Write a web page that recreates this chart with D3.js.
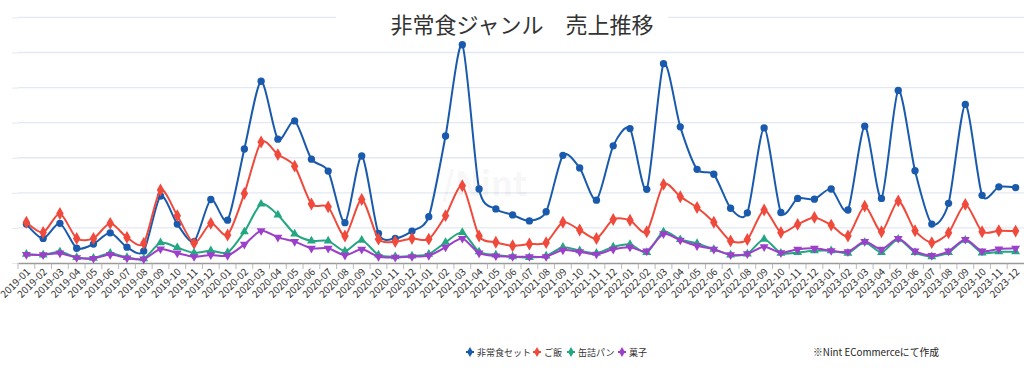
<!DOCTYPE html>
<html>
<head>
<meta charset="utf-8">
<script src="https://cdn.jsdelivr.net/npm/d3@7"></script>
<style>
  body { margin: 0; background: #fff; }
  text { font-family: "Noto Sans CJK JP", "Noto Sans", sans-serif; }
</style>
</head>
<body>
<div id="chart"></div>
<script>
// months 2019-01 .. 2023-12
const years = [2019, 2020, 2021, 2022, 2023]
const months = years.flatMap(y => d3.range(1, 13).map(m => y + '-' + String(m).padStart(2, '0')))

const seriesNames = ['非常食セット', 'ご飯', '缶詰パン', '菓子']
const seriesColors = ['#1a5aad', '#ef4a3c', '#24a682', '#9c3fc9']

const setSales = [
  111, 70, 113, 42, 54, 86, 45, 34, 191, 111, 61, 181,
  122, 325, 518, 353, 405, 296, 262, 115, 305, 84, 70, 91,
  132, 362, 622, 211, 154, 137, 120, 146, 307, 271, 179, 334,
  383, 210, 568, 388, 267, 253, 156, 143, 385, 144, 184, 182,
  211, 151, 390, 184, 492, 263, 111, 170, 452, 193, 217, 215
]
const riceSales = [
  116, 87, 141, 70, 70, 113, 73, 56, 208, 135, 56, 113,
  80, 198, 345, 309, 276, 168, 160, 77, 181, 68, 61, 70,
  68, 135, 220, 77, 59, 49, 54, 58, 116, 94, 70, 124,
  122, 89, 224, 189, 158, 116, 63, 67, 151, 87, 110, 130,
  108, 77, 162, 89, 177, 92, 58, 86, 167, 89, 92, 91
]
const breadSales = [
  25, 23, 32, 16, 14, 28, 16, 12, 58, 44, 29, 35,
  30, 89, 168, 137, 83, 63, 63, 34, 65, 23, 18, 20,
  25, 59, 87, 32, 23, 18, 16, 20, 45, 35, 28, 46,
  53, 30, 89, 67, 56, 39, 23, 26, 68, 28, 30, 35,
  35, 28, 59, 30, 68, 30, 18, 30, 65, 29, 32, 32
]
const snackSales = [
  24, 23, 28, 15, 13, 24, 14, 11, 40, 28, 18, 23,
  21, 53, 92, 73, 61, 42, 42, 22, 39, 18, 16, 18,
  21, 45, 70, 28, 20, 18, 18, 18, 37, 32, 25, 39,
  45, 34, 83, 65, 49, 39, 23, 26, 46, 29, 39, 42,
  35, 32, 61, 39, 70, 34, 21, 34, 67, 34, 40, 42
]
const yTicks = [0, 100, 200, 300, 400, 500, 600, 700]

const allSeries = [setSales, riceSales, breadSales, snackSales]
const symbols = [d3.symbolCircle, d3.symbolDiamond, d3.symbolTriangle, d3.symbolTriangle]
const symSizes = [42, 48, 34, 34]
const symRotate = [0, 0, 0, 180]

const width = 1024
const height = 371

const svg = d3.select('#chart').append('svg')
  .attr('width', width)
  .attr('height', height)

const x = d3.scaleBand().domain(months).range([18, 1024])
const y = d3.scaleLinear().domain([0, 700]).range([263, 17.4])

// grid
svg.append('g')
  .attr('transform', 'translate(18,0)')
  .call(d3.axisLeft(y).tickValues(yTicks).tickSize(6).tickFormat(''))
  .call(g => g.select('.domain').remove())
  .call(g => g.selectAll('.tick line').attr('stroke', '#e3e8f2'))

svg.append('g')
  .selectAll('line')
  .data(yTicks.slice(1))
  .join('line')
  .attr('x1', 18).attr('x2', 1024)
  .attr('y1', d => y(d)).attr('y2', d => y(d))
  .attr('stroke', '#e3e8f2')
  .attr('stroke-width', 1.3)

// faint watermark
svg.append('text')
  .attr('x', 478).attr('y', 196)
  .attr('text-anchor', 'middle')
  .attr('font-size', 34)
  .attr('font-weight', 'bold')
  .attr('fill', '#000')
  .attr('fill-opacity', 0.05)
  .text('//Nint')

// x axis
const xAxis = svg.append('g')
  .attr('transform', 'translate(0,263)')
  .call(d3.axisBottom(x).tickSize(0).tickPadding(0))
xAxis.select('.domain').attr('stroke', '#9a9a9a').attr('stroke-width', 1.5)
xAxis.selectAll('.tick text')
  .attr('font-size', 10)
  .attr('fill', '#333')
  .attr('text-anchor', 'end')
  .attr('transform', 'translate(2,7) rotate(-45)')
  .attr('dy', '0.35em')

// tick marks between categories
svg.append('g')
  .selectAll('line')
  .data(months)
  .join('line')
  .attr('x1', d => x(d)).attr('x2', d => x(d))
  .attr('y1', 263).attr('y2', 269)
  .attr('stroke', '#aaa')
  .attr('stroke-width', 0.8)

const line = d3.line()
  .x((d, i) => x(months[i]) + x.bandwidth() / 2)
  .y(d => y(d))
  .curve(d3.curveCardinal.tension(0.25))

allSeries.forEach((data, s) => {
  const g = svg.append('g')
  g.append('path')
    .datum(data)
    .attr('d', line)
    .attr('fill', 'none')
    .attr('stroke', seriesColors[s])
    .attr('stroke-width', 2)
  g.selectAll('path.pt')
    .data(data)
    .join('path')
    .attr('class', 'pt')
    .attr('d', d3.symbol().type(symbols[s]).size(symSizes[s]))
    .attr('transform', (d, i) => `translate(${x(months[i]) + x.bandwidth() / 2},${y(d)}) rotate(${symRotate[s]})`)
    .attr('fill', seriesColors[s])
})

// title
svg.append('rect')
  .attr('x', 336).attr('y', 5).attr('width', 332).attr('height', 36)
  .attr('fill', '#fff')
svg.append('text')
  .attr('x', 522).attr('y', 33)
  .attr('text-anchor', 'middle')
  .attr('font-size', 22)
  .attr('fill', '#333')
  .text('非常食ジャンル　売上推移')

// legend
const legendX = [470, 537, 571, 622]
const legend = svg.append('g')
seriesNames.forEach((name, s) => {
  const item = legend.append('g').attr('transform', `translate(${legendX[s]},352)`)
  item.append('line')
    .attr('x1', -4).attr('x2', 4)
    .attr('stroke', seriesColors[s]).attr('stroke-width', 2)
  item.append('path')
    .attr('d', d3.symbol().type(d3.symbolDiamond).size(30))
    .attr('fill', seriesColors[s])
  item.append('text')
    .attr('x', 7).attr('y', 3.5)
    .attr('font-size', 9)
    .attr('fill', '#333')
    .text(name)
})

svg.append('text')
  .attr('x', 813).attr('y', 356)
  .attr('font-size', 9.8)
  .attr('fill', '#222')
  .text('※Nint ECommerceにて作成')
</script>
</body>
</html>
